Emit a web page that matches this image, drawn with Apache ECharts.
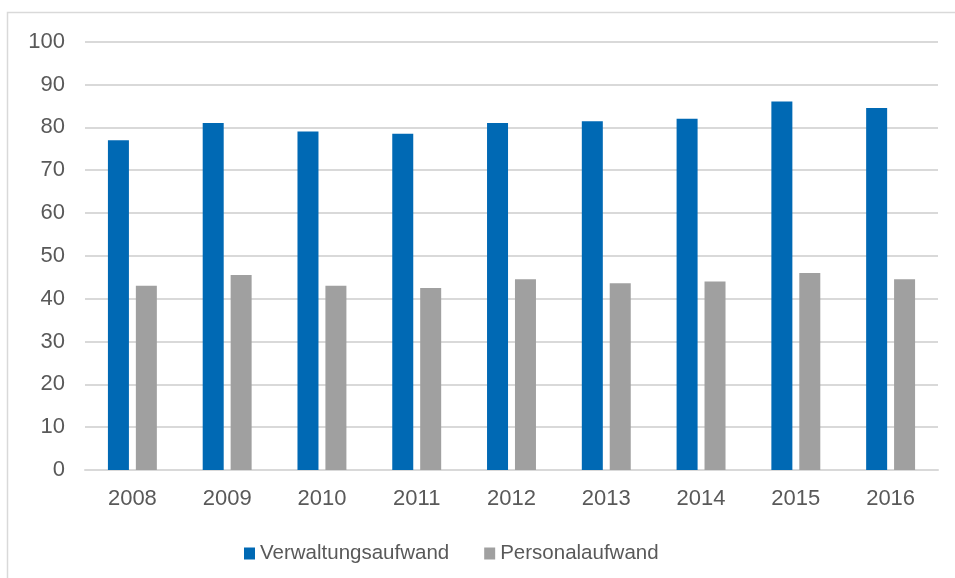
<!DOCTYPE html>
<html>
<head>
<meta charset="utf-8">
<script src="https://cdn.jsdelivr.net/npm/echarts@6/dist/echarts.min.js"></script>
<style>
  html, body { margin: 0; padding: 0; background: #fff; }
  #container { width: 955px; height: 578px; }
</style>
</head>
<body>
<div id="container"></div>
<script>
var years = ['2008', '2009', '2010', '2011', '2012', '2013', '2014', '2015', '2016'];
var verwaltung = [77, 81, 79, 78.5, 81, 81.4, 82, 86, 84.5];
var personal = [43, 45.5, 43, 42.5, 44.5, 43.6, 44, 46, 44.5];
var yTicks = [0, 10, 20, 30, 40, 50, 60, 70, 80, 90, 100];

var dom = document.getElementById('container');
var myChart = echarts.init(dom);
var font = '"Liberation Sans", Arial, sans-serif';

var option = {
    animation: false,
    grid: { left: 85, right: 17, top: 41.6, bottom: 108 },
    graphic: [{
        type: 'rect',
        shape: { x: 7.5, y: 12.5, width: 960, height: 600 },
        style: { fill: 'none', stroke: '#d9d9d9', lineWidth: 1.5 },
        silent: true
    }],
    legend: {
        left: 239,
        top: 538,
        itemWidth: 11,
        itemHeight: 12,
        itemGap: 35,
        icon: 'rect',
        textStyle: { color: '#595959', fontSize: 20.5, fontFamily: font, padding: [0, 0, 0, 0] },
        data: ['Verwaltungsaufwand', 'Personalaufwand']
    },
    xAxis: {
        type: 'category',
        data: years,
        axisLine: { lineStyle: { color: '#d9d9d9', width: 2 } },
        axisTick: { show: false },
        axisLabel: { color: '#595959', fontSize: 22, fontFamily: font, margin: 18 }
    },
    yAxis: {
        type: 'value',
        min: yTicks[0],
        max: yTicks[yTicks.length - 1],
        interval: 10,
        axisLine: { show: false },
        axisTick: { show: false },
        splitLine: { lineStyle: { color: '#d9d9d9', width: 2 } },
        axisLabel: { color: '#595959', fontSize: 22, fontFamily: font, margin: 20 }
    },
    series: [
        {
            name: 'Verwaltungsaufwand',
            type: 'bar',
            barWidth: 21,
            barGap: '33%',
            itemStyle: { color: '#0069b4' },
            data: verwaltung
        },
        {
            name: 'Personalaufwand',
            type: 'bar',
            barWidth: 21,
            barGap: '33%',
            itemStyle: { color: '#a0a0a0' },
            data: personal
        }
    ]
};
myChart.setOption(option, true);
</script>
</body>
</html>
